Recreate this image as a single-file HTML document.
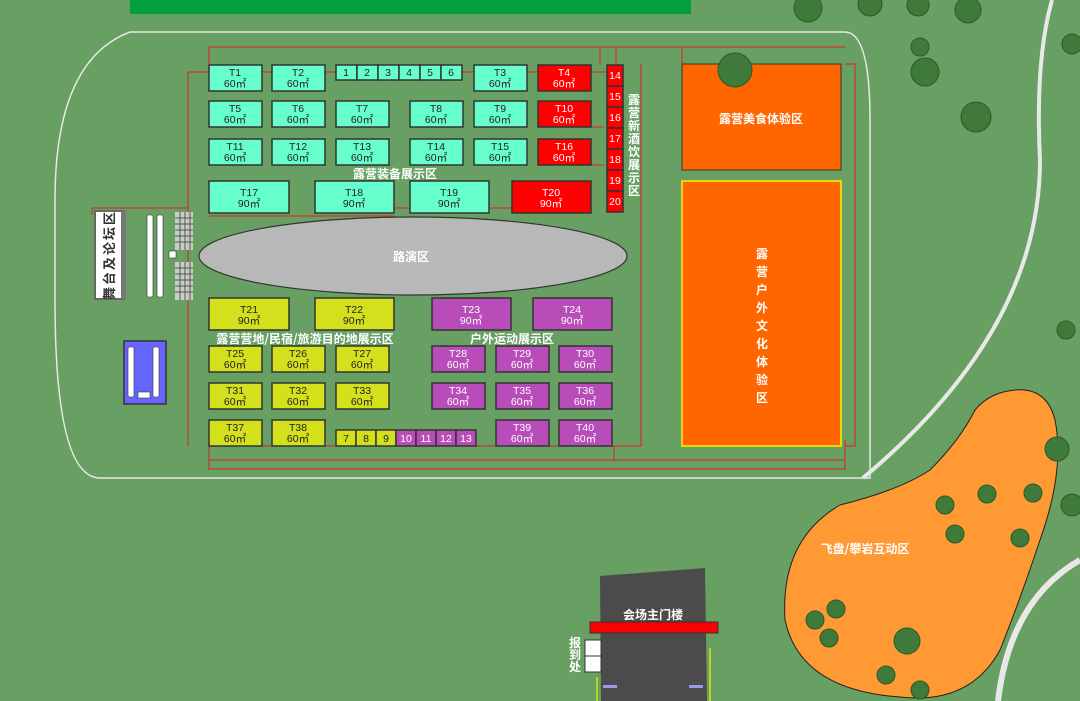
<!DOCTYPE html>
<html><head><meta charset="utf-8"><style>
html,body{margin:0;padding:0;background:#67a062;}
svg{display:block}
text{font-family:"Liberation Sans","Noto Sans CJK SC",sans-serif;}
.b{stroke:#333;stroke-width:1.5}
.t{font-size:10.5px;fill:#222;text-anchor:middle}
.tw{font-size:10.5px;fill:#fff;text-anchor:middle}
.lab{font-size:12px;fill:#fff;font-weight:bold;text-anchor:middle;font-family:"Noto Sans CJK SC",sans-serif}
</style></head><body>
<svg width="1080" height="701" viewBox="0 0 1080 701">
<rect width="1080" height="701" fill="#67a062"/>
<rect x="130" y="0" width="561" height="14" fill="#00a03a"/>
<path d="M130,32 L845,32 Q870,32 870,120 L870,478 L100,478 Q55,478 55,300 L55,200 Q55,60 130,32 Z" fill="none" stroke="#e8e8e8" stroke-width="1.5"/>
<path d="M1052,0 Q1035,60 1040,160 Q1040,330 863,478" fill="none" stroke="#e8e8e8" stroke-width="4"/>
<path d="M1080,560 Q1010,600 998,701" fill="none" stroke="#e8e8e8" stroke-width="6"/>
<g stroke="#d22" stroke-width="1" fill="none">
<path d="M188,446 L188,72 L607,72"/>
<path d="M209,47 L607,47 M209,47 L209,65 M600,47 L600,65 M616,47 L616,65 M607,47 L682,47 M682,47 L682,65 M682,47 L845,47"/>
<path d="M641,64 L641,446 L209,446 M209,446 L209,470"/>
<path d="M209,460 L614,460 L614,446 M614,460 L845,460 M845,440 L845,470"/>
<path d="M209,469 L845,469"/>
<path d="M845,64 L855,64 L855,446 L845,446"/>
<path d="M209,216 L394,216 M394,208 L410,208 M489,208 L512,208"/>
<path d="M591,127 L604,127 M591,165 L604,165"/>
<path d="M92,208 L188,208 M92,208 L92,215"/>
</g>
<rect x="95" y="211" width="29" height="88" fill="#fff" stroke="#666" stroke-width="2"/>
<rect x="121" y="211" width="5" height="88" fill="#777"/>
<text x="0" y="0" transform="translate(114,255) rotate(-90)" font-size="13" font-weight="bold" fill="#333" font-family="Noto Sans CJK SC,sans-serif" text-anchor="middle" letter-spacing="2">舞台及论坛区</text>
<g fill="#fff" stroke="#333" stroke-width="0.6">
<rect x="147" y="215" width="6" height="82" rx="2"/><rect x="157" y="215" width="6" height="82" rx="2"/>
<rect x="169" y="251" width="7" height="7"/>
</g>
<g fill="#ddd"><rect x="175" y="212" width="18" height="38" opacity="0.8"/><rect x="175" y="262" width="18" height="38" opacity="0.8"/></g>
<g stroke="#555" stroke-width="1"><path d="M175,218 H193 M175,224 H193 M175,230 H193 M175,236 H193 M175,242 H193 M175,268 H193 M175,274 H193 M175,280 H193 M175,286 H193 M175,292 H193 M180,212 V250 M185,212 V250 M190,212 V250 M180,262 V300 M185,262 V300 M190,262 V300"/></g>
<rect x="124" y="341" width="42" height="63" fill="#6666ff" stroke="#333" stroke-width="1.5"/>
<g fill="#fff" stroke="#333" stroke-width="0.6"><rect x="128" y="347" width="6" height="50" rx="2"/><rect x="153" y="347" width="6" height="50" rx="2"/><rect x="138" y="392" width="12" height="6"/></g>
<ellipse cx="413" cy="256" rx="214" ry="39" fill="#b8b8b8" stroke="#333" stroke-width="1.2"/>
<text x="411" y="261" class="lab" font-size="13">路演区</text>
<g fill="#66ffcc" class="b">
<rect x="209" y="65" width="53" height="26"/><rect x="272" y="65" width="53" height="26"/><rect x="474" y="65" width="53" height="26"/>
<rect x="209" y="101" width="53" height="26"/><rect x="272" y="101" width="53" height="26"/><rect x="336" y="101" width="53" height="26"/><rect x="410" y="101" width="53" height="26"/><rect x="474" y="101" width="53" height="26"/>
<rect x="209" y="139" width="53" height="26"/><rect x="272" y="139" width="53" height="26"/><rect x="336" y="139" width="53" height="26"/><rect x="410" y="139" width="53" height="26"/><rect x="474" y="139" width="53" height="26"/>
<rect x="209" y="181" width="80" height="32"/><rect x="315" y="181" width="79" height="32"/><rect x="410" y="181" width="79" height="32"/>
<rect x="336" y="65" width="21" height="15"/><rect x="357" y="65" width="21" height="15"/><rect x="378" y="65" width="21" height="15"/><rect x="399" y="65" width="21" height="15"/><rect x="420" y="65" width="21" height="15"/><rect x="441" y="65" width="21" height="15"/>
</g>
<g fill="#ff0000" class="b">
<rect x="538" y="65" width="53" height="26"/><rect x="538" y="101" width="53" height="26"/><rect x="538" y="139" width="53" height="26"/><rect x="512" y="181" width="79" height="32"/>
<rect x="607" y="65" width="16" height="21"/><rect x="607" y="86" width="16" height="21"/><rect x="607" y="107" width="16" height="21"/><rect x="607" y="128" width="16" height="21"/><rect x="607" y="149" width="16" height="21"/><rect x="607" y="170" width="16" height="21"/><rect x="607" y="191" width="16" height="21"/>
</g>
<g fill="#d4e01c" class="b">
<rect x="209" y="298" width="80" height="32"/><rect x="315" y="298" width="79" height="32"/>
<rect x="209" y="346" width="53" height="26"/><rect x="272" y="346" width="53" height="26"/><rect x="336" y="346" width="53" height="26"/>
<rect x="209" y="383" width="53" height="26"/><rect x="272" y="383" width="53" height="26"/><rect x="336" y="383" width="53" height="26"/>
<rect x="209" y="420" width="53" height="26"/><rect x="272" y="420" width="53" height="26"/>
<rect x="336" y="430" width="20" height="16"/><rect x="356" y="430" width="20" height="16"/><rect x="376" y="430" width="20" height="16"/>
</g>
<g fill="#b84cb8" class="b">
<rect x="432" y="298" width="79" height="32"/><rect x="533" y="298" width="79" height="32"/>
<rect x="432" y="346" width="53" height="26"/><rect x="496" y="346" width="53" height="26"/><rect x="559" y="346" width="53" height="26"/>
<rect x="432" y="383" width="53" height="26"/><rect x="496" y="383" width="53" height="26"/><rect x="559" y="383" width="53" height="26"/>
<rect x="496" y="420" width="53" height="26"/><rect x="559" y="420" width="53" height="26"/>
<rect x="396" y="430" width="20" height="16"/><rect x="416" y="430" width="20" height="16"/><rect x="436" y="430" width="20" height="16"/><rect x="456" y="430" width="20" height="16"/>
</g>
<g class="t">
<text x="235" y="76">T1</text><text x="235" y="87">60㎡</text>
<text x="298" y="76">T2</text><text x="298" y="87">60㎡</text>
<text x="500" y="76">T3</text><text x="500" y="87">60㎡</text>
<text x="346" y="76">1</text><text x="367" y="76">2</text><text x="388" y="76">3</text><text x="409" y="76">4</text><text x="430" y="76">5</text><text x="451" y="76">6</text>
<text x="235" y="112">T5</text><text x="235" y="123">60㎡</text>
<text x="298" y="112">T6</text><text x="298" y="123">60㎡</text>
<text x="362" y="112">T7</text><text x="362" y="123">60㎡</text>
<text x="436" y="112">T8</text><text x="436" y="123">60㎡</text>
<text x="500" y="112">T9</text><text x="500" y="123">60㎡</text>
<text x="235" y="150">T11</text><text x="235" y="161">60㎡</text>
<text x="298" y="150">T12</text><text x="298" y="161">60㎡</text>
<text x="362" y="150">T13</text><text x="362" y="161">60㎡</text>
<text x="436" y="150">T14</text><text x="436" y="161">60㎡</text>
<text x="500" y="150">T15</text><text x="500" y="161">60㎡</text>
<text x="249" y="196">T17</text><text x="249" y="207">90㎡</text>
<text x="354" y="196">T18</text><text x="354" y="207">90㎡</text>
<text x="449" y="196">T19</text><text x="449" y="207">90㎡</text>
<text x="249" y="313">T21</text><text x="249" y="324">90㎡</text>
<text x="354" y="313">T22</text><text x="354" y="324">90㎡</text>
<text x="235" y="357">T25</text><text x="235" y="368">60㎡</text>
<text x="298" y="357">T26</text><text x="298" y="368">60㎡</text>
<text x="362" y="357">T27</text><text x="362" y="368">60㎡</text>
<text x="235" y="394">T31</text><text x="235" y="405">60㎡</text>
<text x="298" y="394">T32</text><text x="298" y="405">60㎡</text>
<text x="362" y="394">T33</text><text x="362" y="405">60㎡</text>
<text x="235" y="431">T37</text><text x="235" y="442">60㎡</text>
<text x="298" y="431">T38</text><text x="298" y="442">60㎡</text>
<text x="346" y="442">7</text><text x="366" y="442">8</text><text x="386" y="442">9</text>
</g>
<g class="tw">
<text x="564" y="76">T4</text><text x="564" y="87">60㎡</text>
<text x="564" y="112">T10</text><text x="564" y="123">60㎡</text>
<text x="564" y="150">T16</text><text x="564" y="161">60㎡</text>
<text x="551" y="196">T20</text><text x="551" y="207">90㎡</text>
<text x="615" y="79">14</text><text x="615" y="100">15</text><text x="615" y="121">16</text><text x="615" y="142">17</text><text x="615" y="163">18</text><text x="615" y="184">19</text><text x="615" y="205">20</text>
<text x="471" y="313">T23</text><text x="471" y="324">90㎡</text>
<text x="572" y="313">T24</text><text x="572" y="324">90㎡</text>
<text x="458" y="357">T28</text><text x="458" y="368">60㎡</text>
<text x="522" y="357">T29</text><text x="522" y="368">60㎡</text>
<text x="585" y="357">T30</text><text x="585" y="368">60㎡</text>
<text x="458" y="394">T34</text><text x="458" y="405">60㎡</text>
<text x="522" y="394">T35</text><text x="522" y="405">60㎡</text>
<text x="585" y="394">T36</text><text x="585" y="405">60㎡</text>
<text x="522" y="431">T39</text><text x="522" y="442">60㎡</text>
<text x="585" y="431">T40</text><text x="585" y="442">60㎡</text>
<text x="406" y="442">10</text><text x="426" y="442">11</text><text x="446" y="442">12</text><text x="466" y="442">13</text>
</g>
<text x="395" y="178" class="lab" font-size="11">露营装备展示区</text>
<text x="305" y="343" class="lab" font-size="11">露营营地/民宿/旅游目的地展示区</text>
<text x="512" y="343" class="lab" font-size="11">户外运动展示区</text>
<text x="634" y="104" class="lab" font-size="12"><tspan x="634" dy="0">露</tspan><tspan x="634" dy="13">营</tspan><tspan x="634" dy="13">新</tspan><tspan x="634" dy="13">酒</tspan><tspan x="634" dy="13">饮</tspan><tspan x="634" dy="13">展</tspan><tspan x="634" dy="13">示</tspan><tspan x="634" dy="13">区</tspan></text>
<rect x="682" y="64" width="159" height="106" fill="#ff6600" stroke="#333" stroke-width="1"/>
<text x="761" y="123" class="lab" font-size="15" font-weight="normal">露营美食体验区</text>
<rect x="682" y="181" width="159" height="265" fill="#ff6600" stroke="#ffee00" stroke-width="1.5"/>
<text x="762" y="258" class="lab" font-size="16" font-weight="normal"><tspan x="762" dy="0">露</tspan><tspan x="762" dy="18">营</tspan><tspan x="762" dy="18">户</tspan><tspan x="762" dy="18">外</tspan><tspan x="762" dy="18">文</tspan><tspan x="762" dy="18">化</tspan><tspan x="762" dy="18">体</tspan><tspan x="762" dy="18">验</tspan><tspan x="762" dy="18">区</tspan></text>
<path d="M1000,393 Q1045,380 1055,420 Q1065,470 1040,540 Q1020,600 1000,650 Q970,705 900,697 Q800,690 785,620 Q780,540 840,505 Q900,490 930,470 Q960,440 975,410 Q985,398 1000,393 Z" fill="#ff9933" stroke="#222" stroke-width="1"/>
<text x="865" y="553" class="lab" font-size="11" font-weight="normal">飞盘/攀岩互动区</text>
<g fill="#3f7a3a" stroke="#2a5a28" stroke-width="1">
<circle cx="808" cy="8" r="14"/><circle cx="870" cy="4" r="12"/><circle cx="918" cy="5" r="11"/><circle cx="968" cy="10" r="13"/><circle cx="1072" cy="44" r="10"/>
<circle cx="735" cy="70" r="17"/><circle cx="925" cy="72" r="14"/><circle cx="920" cy="47" r="9"/><circle cx="976" cy="117" r="15"/><circle cx="1066" cy="330" r="9"/>
<circle cx="1057" cy="449" r="12"/><circle cx="1072" cy="505" r="11"/><circle cx="945" cy="505" r="9"/><circle cx="987" cy="494" r="9"/><circle cx="1033" cy="493" r="9"/><circle cx="955" cy="534" r="9"/><circle cx="1020" cy="538" r="9"/>
<circle cx="836" cy="609" r="9"/><circle cx="815" cy="620" r="9"/><circle cx="829" cy="638" r="9"/><circle cx="907" cy="641" r="13"/><circle cx="886" cy="675" r="9"/><circle cx="920" cy="690" r="9"/>
</g>
<polygon points="600,576 705,568 707,701 601,701" fill="#4b4b4b"/>
<text x="653" y="619" class="lab" font-size="11">会场主门楼</text>
<rect x="590" y="622" width="128" height="11" fill="#ff0000" stroke="#333" stroke-width="1"/>
<rect x="585" y="640" width="16" height="16" fill="#fff" stroke="#333"/><rect x="585" y="656" width="16" height="16" fill="#fff" stroke="#333"/>
<text x="575" y="647" class="lab" font-size="11"><tspan x="575" dy="0">报</tspan><tspan x="575" dy="12">到</tspan><tspan x="575" dy="12">处</tspan></text>
<path d="M597,677 V701 M710,648 V701" stroke="#ffee00" stroke-width="1.2"/>
<rect x="603" y="685" width="14" height="3" fill="#9999ee"/><rect x="689" y="685" width="14" height="3" fill="#9999ee"/>
</svg>
</body></html>
